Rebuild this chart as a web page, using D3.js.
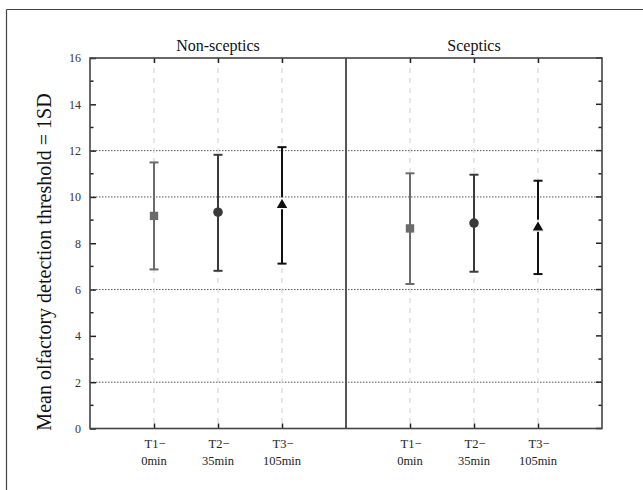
<!DOCTYPE html>
<html><head><meta charset="utf-8">
<script src="https://cdn.jsdelivr.net/npm/d3@7"></script>
<style>
body{margin:0;background:#fff;}
svg{display:block;}
text{font-family:"Liberation Serif","Times New Roman",serif;}
</style></head>
<body><svg id="c" width="643" height="490"></svg>
<script>
const panels = ["Non-sceptics", "Sceptics"];
const timepoints = ["T1−|0min", "T2−|35min", "T3−|105min"];
const shapes = ["square", "circle", "triangle"];
const colors = ["#6b6b6b", "#3a3a3a", "#111111"];
const means = [[9.18, 9.34, 9.65], [8.64, 8.87, 8.68]];
const upper = [[11.49, 11.82, 12.15], [11.02, 10.96, 10.70]];
const lower = [[6.87, 6.81, 7.12], [6.24, 6.77, 6.67]];
const yTicks = [0, 2, 4, 6, 8, 10, 12, 14, 16];
const yGrid = [2, 6, 10, 12];

const SERIF = "Liberation Serif";
const svg = d3.select("#c");
const L = 90, R = 602, T = 58, B = 428.5;

// outer frame
svg.append("line").attr("x1", 6.5).attr("x2", 643).attr("y1", 9.5).attr("y2", 9.5).attr("stroke", "#444").attr("stroke-width", 1.2);
svg.append("line").attr("x1", 6.5).attr("x2", 6.5).attr("y1", 9.5).attr("y2", 490).attr("stroke", "#444").attr("stroke-width", 1.2);

const y = d3.scaleLinear().domain([0, 16]).range([B, T]);
const panelX = d3.scaleBand().domain(panels).range([L, R]);
const x = d3.scalePoint().domain(timepoints).range([0, panelX.bandwidth()]).padding(1);

// horizontal grid
svg.append("g").selectAll("line").data(yGrid).join("line")
  .attr("x1", L).attr("x2", R).attr("y1", d => y(d)).attr("y2", d => y(d))
  .attr("stroke", "#555").attr("stroke-width", 1).attr("stroke-dasharray", "1.5,1.5");

panels.forEach((p, pi) => {
  const g = svg.append("g").attr("transform", `translate(${panelX(p)},0)`);
  // vertical grid
  g.selectAll("line.vg").data(timepoints).join("line").attr("class", "vg")
    .attr("x1", d => x(d)).attr("x2", d => x(d)).attr("y1", T).attr("y2", B)
    .attr("stroke", "#d0d0d0").attr("stroke-width", 1).attr("stroke-dasharray", "5,5");
  // title
  g.append("text").attr("x", panelX.bandwidth() / 2).attr("y", 51).attr("text-anchor", "middle")
    .attr("font-family", SERIF).attr("font-size", 16).attr("fill", "#111").text(p);
  // bottom/top ticks
  const xb = g.append("g").attr("transform", `translate(0,${B})`)
    .call(d3.axisBottom(x).tickSize(-5).tickFormat(""));
  xb.select(".domain").remove();
  xb.selectAll(".tick line").attr("stroke", "#222").attr("stroke-width", 1.5);
  const xt = g.append("g").attr("transform", `translate(0,${T})`)
    .call(d3.axisTop(x).tickSize(-5).tickFormat(""));
  xt.select(".domain").remove();
  xt.selectAll(".tick line").attr("stroke", "#222").attr("stroke-width", 1.5);
  timepoints.forEach(tp => {
    const parts = tp.split("|");
    const t = g.append("text").attr("x", x(tp)).attr("y", 448).attr("text-anchor", "middle")
      .attr("font-family", SERIF).attr("font-size", 12.5).attr("fill", "#222");
    t.append("tspan").attr("x", x(tp)).attr("dx", 1).text(parts[0]);
    t.append("tspan").attr("x", x(tp)).attr("dy", 17).text(parts[1]);
  });
  // error bars
  timepoints.forEach((tp, i) => {
    const cx = x(tp), col = colors[i];
    g.append("line").attr("x1", cx).attr("x2", cx).attr("y1", y(upper[pi][i])).attr("y2", y(lower[pi][i]))
      .attr("stroke", col).attr("stroke-width", 2);
    [upper[pi][i], lower[pi][i]].forEach(v => {
      g.append("line").attr("x1", cx - 4.5).attr("x2", cx + 4.5).attr("y1", y(v)).attr("y2", y(v))
        .attr("stroke", col).attr("stroke-width", 2);
    });
    const cy = y(means[pi][i]);
    if (shapes[i] === "square") {
      g.append("path").attr("d", d3.symbol(d3.symbolSquare, 70)()).attr("transform", `translate(${cx},${cy})`).attr("fill", col);
    } else if (shapes[i] === "circle") {
      g.append("path").attr("d", d3.symbol(d3.symbolCircle, 72)()).attr("transform", `translate(${cx},${cy})`).attr("fill", col);
    } else {
      g.append("path").attr("d", d3.symbol(d3.symbolTriangle, 70)()).attr("transform", `translate(${cx},${cy})`)
        .attr("fill", col).attr("stroke", "#fff").attr("stroke-width", 1.2);
    }
  });
});

// left axis
const ya = svg.append("g").attr("transform", `translate(${L},0)`)
  .call(d3.axisLeft(y).tickValues(yTicks).tickSize(-6).tickPadding(9));
ya.attr("font-family", SERIF);
ya.select(".domain").remove();
ya.selectAll(".tick line").attr("stroke", "#222").attr("stroke-width", 1.5);
ya.selectAll(".tick text").attr("font-family", SERIF).attr("font-size", 12).attr("fill", "#333");
const minor = d3.range(1, 16, 2);
svg.append("g").selectAll("line").data(minor).join("line")
  .attr("x1", L).attr("x2", L + 3.5).attr("y1", d => y(d)).attr("y2", d => y(d)).attr("stroke", "#222").attr("stroke-width", 1.5);
// right axis
svg.append("g").selectAll("line").data(yTicks).join("line")
  .attr("x1", R - 6).attr("x2", R).attr("y1", d => y(d)).attr("y2", d => y(d)).attr("stroke", "#222").attr("stroke-width", 1.5);
svg.append("g").selectAll("line").data(minor).join("line")
  .attr("x1", R - 3.5).attr("x2", R).attr("y1", d => y(d)).attr("y2", d => y(d)).attr("stroke", "#222").attr("stroke-width", 1.5);

// plot frame and divider
svg.append("rect").attr("x", L).attr("y", T).attr("width", R - L).attr("height", B - T)
  .attr("fill", "none").attr("stroke", "#444").attr("stroke-width", 1.6);
svg.append("line").attr("x1", panelX(panels[1])).attr("x2", panelX(panels[1])).attr("y1", T).attr("y2", B)
  .attr("stroke", "#444").attr("stroke-width", 1.8);

// y label
svg.append("text").attr("transform", `translate(51,262) rotate(-90)`).attr("text-anchor", "middle")
  .attr("font-family", SERIF).attr("font-size", 20).attr("fill", "#111").text("Mean olfactory detection threshold = 1SD");
</script></body></html>
